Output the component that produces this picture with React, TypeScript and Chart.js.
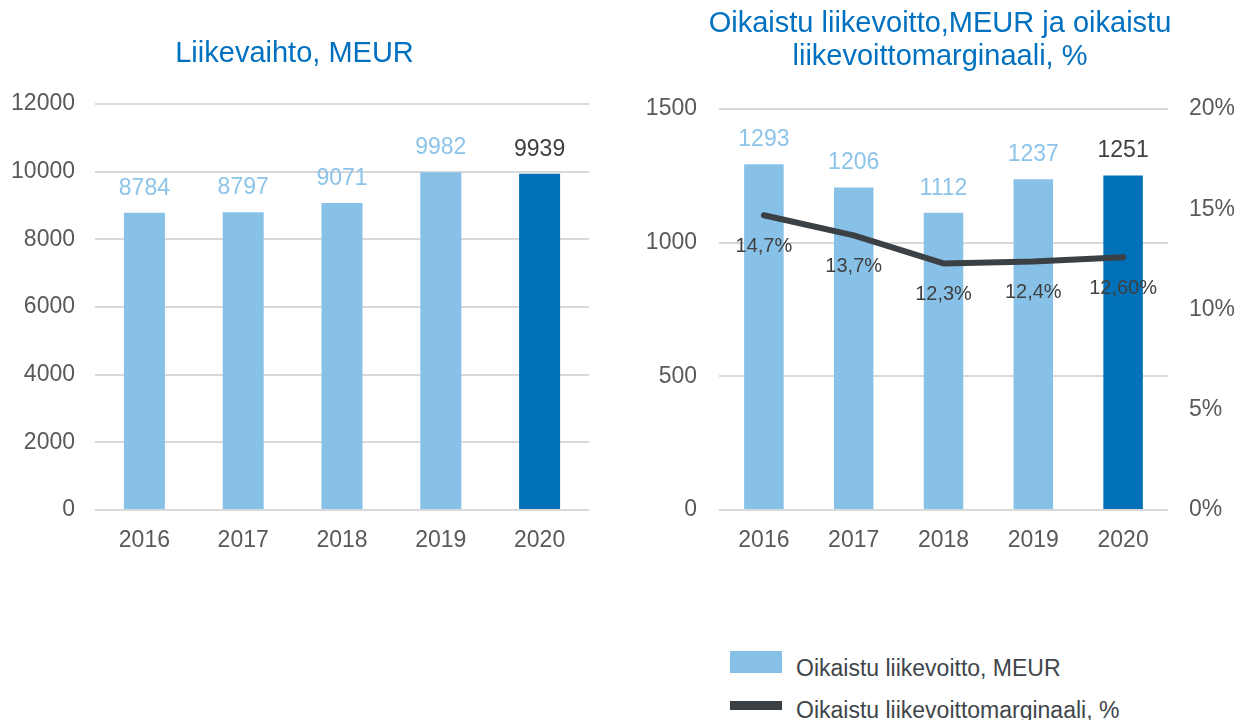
import React, { useEffect, useRef } from "react";
import { Chart, registerables } from "chart.js";

Chart.register(...registerables);

const FONT = "'Liberation Sans', Arial, Helvetica, sans-serif";

// ---- data ----
const years = ["2016", "2017", "2018", "2019", "2020"];
const revenue = [8784, 8797, 9071, 9982, 9939];
const adjEbit = [1293, 1206, 1112, 1237, 1251];
const adjMargin = [14.7, 13.7, 12.3, 12.4, 12.6];
const adjMarginLabels = ["14,7%", "13,7%", "12,3%", "12,4%", "12,60%"];

const leftTitle = "Liikevaihto, MEUR";
const rightTitle = ["Oikaistu liikevoitto,MEUR ja oikaistu", "liikevoittomarginaali, %"];
const legendBar = "Oikaistu liikevoitto, MEUR";
const legendLine = "Oikaistu liikevoittomarginaali, %";

// ---- styles ----
const LIGHT = "#88C1E7";
const DARK = "#0070B8";
const LIGHT_TXT = "#8CC4EA";
const DARK_TXT = "#3F3F3F";
const LINE = "#3B4045";
const GRID = "#D9D9D9";
const TICK = "#595959";
const TITLE = "#0070C0";

const barColors = years.map((_, i) => (i === years.length - 1 ? DARK : LIGHT));
const barLabelColors = years.map((_, i) => (i === years.length - 1 ? DARK_TXT : LIGHT_TXT));

const labelsPlugin = {
  id: "valueLabels",
  afterDatasetsDraw(chart: any) {
    const ctx = chart.ctx;
    chart.data.datasets.forEach((ds: any, i: number) => {
      if (!ds.valueText) return;
      const meta = chart.getDatasetMeta(i);
      ctx.save();
      ctx.font = `${ds.valueFontSize}px ${FONT}`;
      ctx.textAlign = "center";
      ctx.textBaseline = "middle";
      meta.data.forEach((el: any, j: number) => {
        const c = Array.isArray(ds.valueColor) ? ds.valueColor[j] : ds.valueColor;
        ctx.fillStyle = c;
        ctx.fillText(ds.valueText[j], el.x, el.y + ds.valueOffset);
      });
      ctx.restore();
    });
  },
};

const plainTick = (v: any) => String(v);

function LeftChart() {
  const ref = useRef<HTMLCanvasElement>(null);
  useEffect(() => {
    const chart = new Chart(ref.current as HTMLCanvasElement, {
      type: "bar",
      data: {
        labels: years,
        datasets: [
          {
            data: revenue,
            backgroundColor: barColors,
            barPercentage: 0.415,
            categoryPercentage: 1,
            valueText: revenue.map(String),
            valueColor: barLabelColors,
            valueOffset: -24.5,
            valueFontSize: 23,
          } as any,
        ],
      },
      options: {
        responsive: false,
        animation: false,
        layout: { padding: { left: 0, right: 21, top: 0, bottom: 0 } },
        plugins: {
          legend: { display: false },
          tooltip: { enabled: false },
          title: {
            display: true,
            text: leftTitle,
            color: TITLE,
            font: { family: FONT, size: 29, weight: "normal", lineHeight: 33 / 29 },
            padding: { top: 37, bottom: 34 },
          },
        },
        scales: {
          x: {
            grid: { display: false, drawTicks: false },
            border: { display: false },
            ticks: { color: TICK, font: { family: FONT, size: 23 }, padding: 17 },
            afterFit: (s: any) => { s.height = 90; },
          },
          y: {
            min: 0,
            max: 12000,
            grid: { color: GRID, lineWidth: 2, drawTicks: false },
            border: { display: false },
            ticks: {
              stepSize: 2000,
              color: TICK,
              font: { family: FONT, size: 23 },
              padding: 20,
              callback: plainTick,
            },
            afterFit: (s: any) => { s.width = 95; },
          },
        },
      },
      plugins: [labelsPlugin],
    } as any);
    return () => chart.destroy();
  }, []);
  return (
    <canvas
      ref={ref}
      width={610}
      height={600}
      style={{ position: "absolute", left: 0, top: 0, width: 610, height: 600 }}
    />
  );
}

function RightChart() {
  const ref = useRef<HTMLCanvasElement>(null);
  useEffect(() => {
    const chart = new Chart(ref.current as HTMLCanvasElement, {
      type: "bar",
      data: {
        labels: years,
        datasets: [
          {
            type: "line",
            data: adjMargin,
            yAxisID: "y1",
            borderColor: LINE,
            borderWidth: 6,
            pointRadius: 0,
            tension: 0,
            borderCapStyle: "round",
            borderJoinStyle: "round",
            order: 0,
            valueText: adjMarginLabels,
            valueColor: DARK_TXT,
            valueOffset: 31,
            valueFontSize: 20,
          } as any,
          {
            type: "bar",
            data: adjEbit,
            yAxisID: "y",
            backgroundColor: barColors,
            barPercentage: 0.44,
            categoryPercentage: 1,
            order: 1,
            valueText: adjEbit.map(String),
            valueColor: barLabelColors,
            valueOffset: -24.5,
            valueFontSize: 23,
          } as any,
        ],
      },
      options: {
        responsive: false,
        animation: false,
        layout: { padding: 0 },
        plugins: {
          legend: { display: false },
          tooltip: { enabled: false },
          title: {
            display: true,
            text: rightTitle,
            color: TITLE,
            font: { family: FONT, size: 29, weight: "normal", lineHeight: 33 / 29 },
            padding: { top: 7.5, bottom: 35.5 },
          },
        },
        scales: {
          x: {
            grid: { display: false, drawTicks: false },
            border: { display: false },
            ticks: { color: TICK, font: { family: FONT, size: 23 }, padding: 17 },
            afterFit: (s: any) => { s.height = 90; },
          },
          y: {
            position: "left",
            min: 0,
            max: 1500,
            grid: { color: GRID, lineWidth: 2, drawTicks: false },
            border: { display: false },
            ticks: {
              stepSize: 500,
              color: TICK,
              font: { family: FONT, size: 23 },
              padding: 22,
              callback: plainTick,
            },
            afterFit: (s: any) => { s.width = 78; },
          },
          y1: {
            position: "right",
            min: 0,
            max: 20,
            grid: { display: false, drawTicks: false },
            border: { display: false },
            ticks: {
              stepSize: 5,
              color: TICK,
              font: { family: FONT, size: 23 },
              padding: 21,
              callback: (v: any) => `${v}%`,
            },
            afterFit: (s: any) => { s.width = 71; },
          },
        },
      },
      plugins: [labelsPlugin],
    } as any);
    return () => chart.destroy();
  }, []);
  return (
    <canvas
      ref={ref}
      width={598}
      height={600}
      style={{ position: "absolute", left: 641, top: 0, width: 598, height: 600 }}
    />
  );
}

function Legend() {
  const textStyle: React.CSSProperties = {
    position: "absolute",
    left: 796,
    fontFamily: FONT,
    fontSize: 23,
    lineHeight: "26px",
    color: "#40454A",
    whiteSpace: "nowrap",
  };
  return (
    <>
      <div style={{ position: "absolute", left: 730, top: 651, width: 52, height: 22, background: LIGHT }} />
      <div style={{ ...textStyle, top: 655 }}>{legendBar}</div>
      <div style={{ position: "absolute", left: 730, top: 701, width: 52, height: 9, background: LINE }} />
      <div style={{ ...textStyle, top: 697 }}>{legendLine}</div>
    </>
  );
}

export default function App() {
  return (
    <div
      style={{
        position: "fixed",
        left: 0,
        top: 0,
        width: 1239,
        height: 720,
        overflow: "hidden",
        background: "#fff",
      }}
    >
      <LeftChart />
      <RightChart />
      <Legend />
    </div>
  );
}
